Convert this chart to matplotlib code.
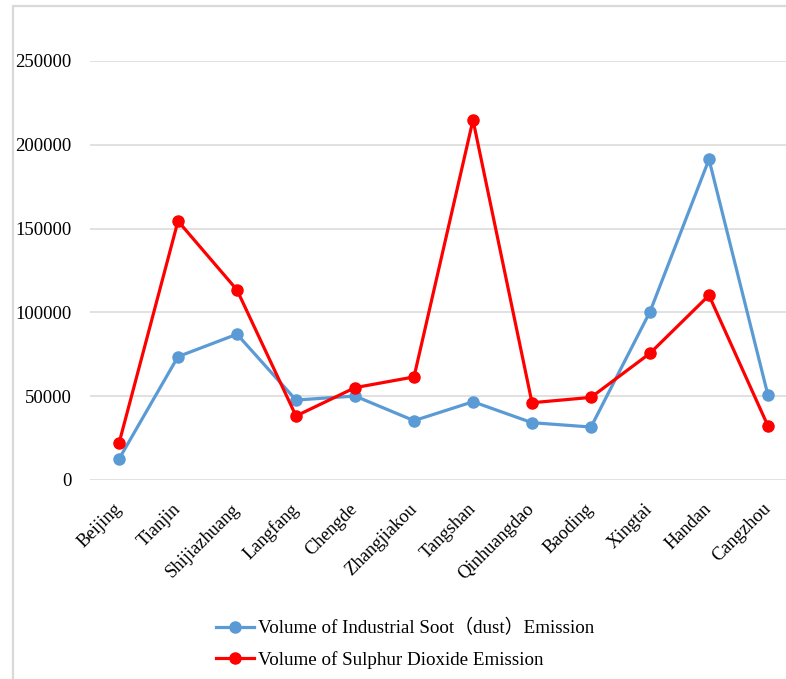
import matplotlib
matplotlib.use("Agg")
import matplotlib.pyplot as plt
from matplotlib.patches import Rectangle

cities = ["Beijing", "Tianjin", "Shijiazhuang", "Langfang", "Chengde", "Zhangjiakou",
          "Tangshan", "Qinhuangdao", "Baoding", "Xingtai", "Handan", "Cangzhou"]
soot = [12500, 73600, 87000, 47700, 50100, 35400, 46700, 34200, 31600, 100400, 191300, 50500]
so2 = [21900, 154500, 113400, 38200, 55100, 61500, 214800, 46100, 49300, 75600, 110200, 32200]
yticks = [0, 50000, 100000, 150000, 200000, 250000]

soot_label = "Volume of Industrial Soot\uff08dust\uff09Emission"
so2_label = "Volume of Sulphur Dioxide Emission"

W, H = 786, 679
fig = plt.figure(figsize=(W / 100, H / 100), dpi=100)
plt.rcParams["font.family"] = ["Liberation Serif", "Noto Sans CJK SC"]

grid_c = "#D9D9D9"

# outer frame (extends past the right and bottom edges)
fig.patches.append(Rectangle((12.5 / W, -0.1), 1.2, (H - 6.5) / H + 0.1,
                             transform=fig.transFigure, fill=False,
                             edgecolor=grid_c, linewidth=1.6, zorder=0))

left, right = 89.5, 797.5
top, bottom = 61.0, 480.0
ax = fig.add_axes([left / W, (H - bottom) / H, (right - left) / W, (bottom - top) / H])

x = list(range(len(cities)))
ax.plot(x, soot, color="#5B9BD5", linewidth=2.3, marker="o", markersize=8,
        label=soot_label, zorder=3)
ax.plot(x, so2, color="#FF0000", linewidth=2.3, marker="o", markersize=8,
        label=so2_label, zorder=4)

ax.set_xlim(-0.5, len(cities) - 0.5)
ax.set_ylim(0, 250000)
ax.set_yticks(yticks)
ax.set_yticklabels([str(v) for v in yticks], fontsize=13.5)
ax.yaxis.grid(True, color=grid_c, linewidth=1.1)
ax.set_axisbelow(True)
for s in ax.spines.values():
    s.set_visible(False)
ax.tick_params(axis="both", length=0)
ax.tick_params(axis="y", pad=13)
ax.set_xticks(x)
ax.set_xticklabels(cities, fontsize=13.3, rotation=45, ha="right", va="center",
                   rotation_mode="anchor")
ax.tick_params(axis="x", pad=19)

handles, labels = ax.get_legend_handles_labels()
fig.legend(handles, labels, loc="center left",
           bbox_to_anchor=(216 / W, (H - 644) / H), frameon=False,
           fontsize=13.7, handlelength=2.0, handletextpad=0.2,
           labelspacing=0.7, borderpad=0, borderaxespad=0)

fig.savefig("out.png", dpi=100)
